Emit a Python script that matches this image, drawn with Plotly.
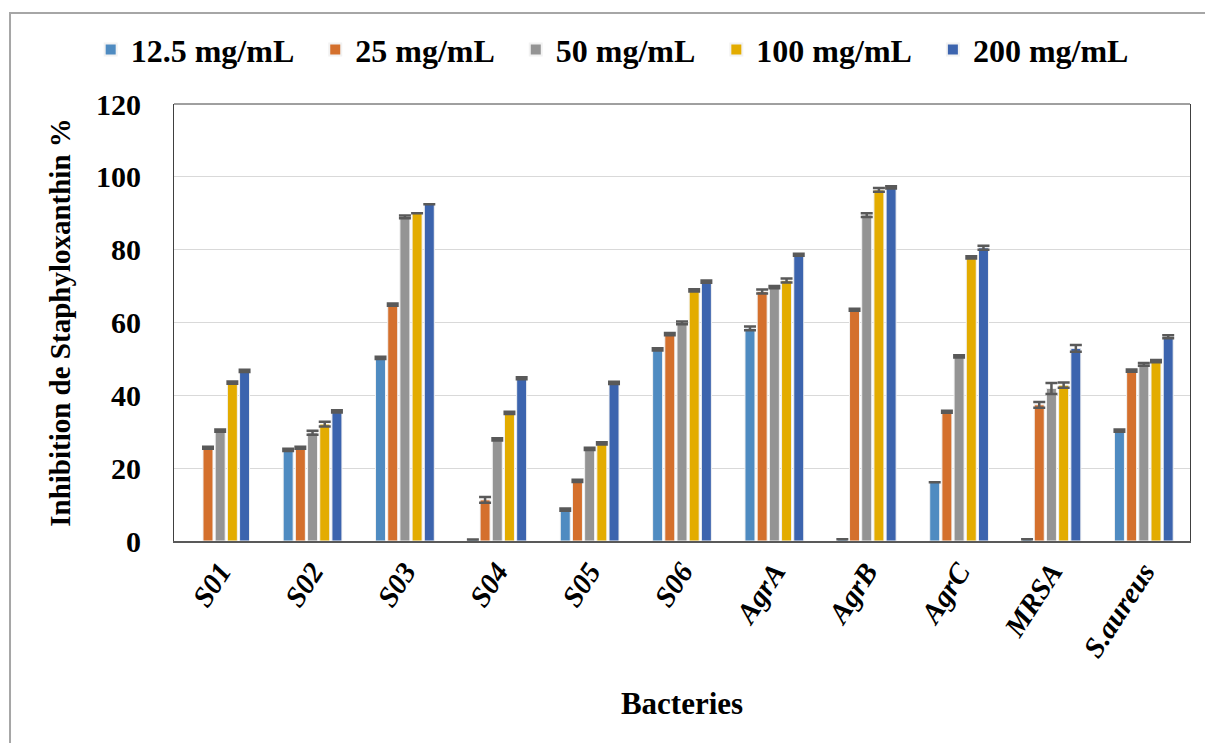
import plotly.graph_objects as go

categories = ["S01", "S02", "S03", "S04", "S05", "S06", "AgrA", "AgrB", "AgrC", "MRSA", "S.aureus"]
series_names = ["12.5 mg/mL", "25 mg/mL", "50 mg/mL", "100 mg/mL", "200 mg/mL"]

v_12_5 = [None, 25.0, 50.3, 0.4, 8.6, 52.6, 58.4, 0.5, 16.1, 0.5, 30.3]
v_25 = [25.6, 25.6, 64.9, 11.3, 16.5, 56.8, 68.5, 63.5, 35.5, 37.4, 46.8]
v_50 = [30.3, 29.7, 89.0, 27.9, 25.3, 59.9, 69.7, 89.5, 50.7, 41.9, 48.5]
v_100 = [43.5, 32.1, 90.0, 35.2, 26.8, 68.8, 71.5, 96.4, 77.9, 42.8, 49.4]
v_200 = [46.7, 35.6, 92.5, 44.7, 43.4, 71.2, 78.6, 97.1, 80.5, 52.9, 56.1]

e_12_5 = [None, 0.3, 0.3, None, 0.3, 0.3, 0.5, None, None, None, 0.3]
e_25 = [0.3, 0.3, 0.3, 0.8, 0.3, 0.3, 0.55, 0.3, 0.3, 0.8, 0.3]
e_50 = [0.3, 0.55, 0.4, 0.3, 0.3, 0.4, 0.3, 0.5, 0.3, 1.5, 0.4]
e_100 = [0.3, 0.65, None, 0.3, 0.3, 0.3, 0.55, 0.5, 0.3, 0.7, 0.3]
e_200 = [0.3, 0.3, None, 0.3, 0.3, 0.3, 0.3, 0.3, 0.55, 0.9, 0.4]

colors = ["#4F8BC1", "#D4702D", "#949494", "#E3AC00", "#3C64AE"]

values = [v_12_5, v_25, v_50, v_100, v_200]
errors = [e_12_5, e_25, e_50, e_100, e_200]

FONT = "Liberation Serif, Times New Roman, serif"

fig = go.Figure()
for name, vals, errs, col in zip(series_names, values, errors, colors):
    fig.add_trace(go.Bar(
        x=categories, y=vals, name=f"<b>{name}</b>&nbsp;&nbsp;",
        marker=dict(color=col, line=dict(color="#F2F2F2", width=1)),
        error_y=dict(type="data", array=[e if e is not None else float("nan") for e in errs],
                     visible=True, color="#595959", thickness=2.5, width=6),
    ))

fig.update_layout(
    width=1205, height=743,
    margin=dict(l=174, r=15, t=104, b=202),
    paper_bgcolor="white", plot_bgcolor="white",
    barmode="group", bargap=0.34, bargroupgap=0.18,
    showlegend=True,
    legend=dict(orientation="h", x=-0.082, xanchor="left", y=1.124, yanchor="middle",
                font=dict(family=FONT, size=32, color="black"),
                itemsizing="constant", traceorder="normal", itemclick=False),
    xaxis=dict(
        tickmode="array", tickvals=categories,
        ticktext=[f"<b><i>{c}</i></b>" for c in categories],
        tickangle=-57, tickfont=dict(family=FONT, size=29, color="black"),
        showline=True, linecolor="#595959", linewidth=2,
        ticks="", showgrid=False,
        title=dict(text="<b>Bacteries</b>", font=dict(family=FONT, size=31, color="black"), standoff=30),
    ),
    yaxis=dict(
        range=[0, 120], tickvals=[0, 20, 40, 60, 80, 100, 120],
        ticktext=[f"<b>{t}</b>" for t in [0, 20, 40, 60, 80, 100, 120]],
        tickfont=dict(family=FONT, size=30, color="black"),
        showgrid=True, gridcolor="#D9D9D9", gridwidth=1,
        showline=True, linecolor="#404040", linewidth=1, mirror=True,
        ticks="", ticklabelstandoff=26, zeroline=False,
        title=dict(text="<b>Inhibition de Staphyloxanthin %</b>",
                   font=dict(family=FONT, size=29, color="black"), standoff=16),
    ),
    shapes=[
        dict(type="line", xref="paper", yref="paper", x0=0, x1=1, y0=1, y1=1,
             line=dict(color="#404040", width=1)),
        dict(type="rect", xref="paper", yref="paper", x0=-0.1614, x1=1.05, y0=-0.5, y1=1.2082,
             line=dict(color="#A6A6A6", width=2), layer="below"),
    ],
)

fig.write_html("out.html")
